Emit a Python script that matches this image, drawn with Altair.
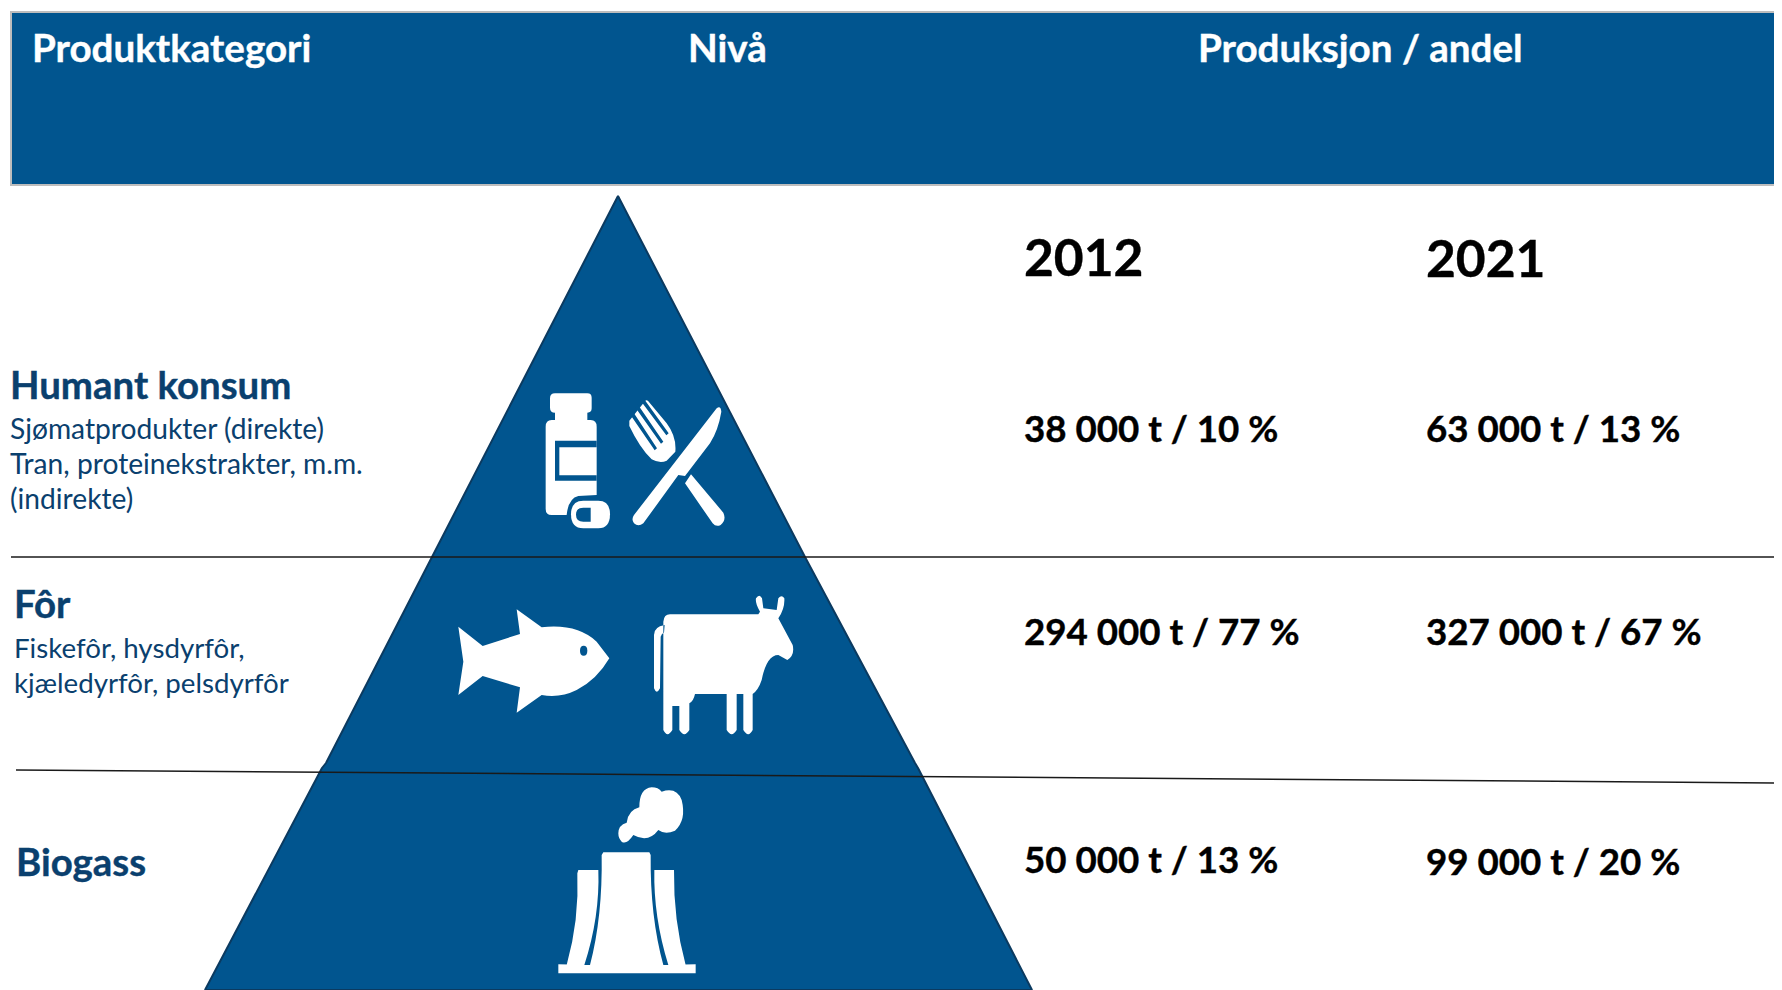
import altair as alt
import pandas as pd

BLUE = "#01558F"
NAVY = "#0A406E"
FONT = "Lato"

headers = ["Produktkategori", "Nivå", "Produksjon / andel"]
header_x = [32, 688, 1198]
header_y = [62, 62, 62]
years = ["2012", "2021"]
year_x = [1024, 1426]
year_y = [276, 277]
v2012 = ["38 000 t / 10 %", "294 000 t / 77 %", "50 000 t / 13 %"]
v2021 = ["63 000 t / 13 %", "327 000 t / 67 %", "99 000 t / 20 %"]
y2012 = [442, 645, 873]
y2021 = [442, 645, 875]
cats = ["Humant konsum", "Fôr", "Biogass"]
cat_x = [10, 14, 16]
cat_y = [399, 618, 876]
subs_a = ["Sjømatprodukter (direkte)", "Tran, proteinekstrakter, m.m.", "(indirekte)"]
sub_a_y = [439, 474, 509]
subs_b = ["Fiskefôr, hysdyrfôr,", "kjæledyrfôr, pelsdyrfôr"]
sub_b_y = [658, 693]

# Pyramid outline: height, left edge, right edge
pyr_y = [196, 557, 763, 768, 990]
pyr_l = [618, 432, 326, 322, 205]
pyr_r = [618, 805, 915, 918, 1032]

# Icon outlines, in units of one third of a pixel around each icon's anchor
BOTTLE = ("M165 70L262 70Q275 70 275 83L275 115Q275 128 262 128L262 150L272 150Q290 150 290 170L290 375L235 378"
          "Q205 385 200 435L155 435Q137 435 137 417L137 170Q137 150 155 150L165 150L165 128Q150 128 150 113L150 85Q150 70 165 70Z")
LABEL = "M290 212L165 212L165 332L290 332L290 316L178 316L178 232L290 232Z"
PILL = "M250 392L295 392Q330 392 330 433Q330 475 295 475L250 475Q213 475 213 433Q213 392 250 392Z"
PILL_IN = "M272 413L250 413Q228 413 228 434Q228 455 250 455L272 455Z"
FORK = ("M388 152L436 92Q440 88 445 94L500 160Q530 200 526 245L500 272Q480 282 455 268Q420 235 388 168Z"
        "M573 313L670 428Q680 450 662 465Q648 472 638 460L555 340Z")
SLOTS = ("M389 131L398 124L471 235L464 241Z M405 111L414 104L490 215L483 221Z M421 91L430 84L506 190L499 196Z")
KNIFE = "M650 115Q662 105 664 125Q655 180 630 220L555 318L535 315L430 460Q415 472 402 460Q393 448 402 435Z"
FISH = ("M85 170L158 228L270 192L260 118L335 172Q440 160 500 215L538 265Q500 330 440 360Q390 385 335 375"
        "L260 428L270 352L158 318L85 375L100 275Z")
EYE = "M450 242Q450 227 461 227Q472 227 472 242Q472 257 461 257Q450 257 450 242Z"
COW = ("M720 133L985 133L990 125Q975 100 978 85Q988 70 996 85L1000 115L1040 120L1045 85Q1055 72 1063 85Q1065 115 1045 145"
       "L1088 225Q1095 255 1072 270L1045 255Q1010 255 995 330Q985 360 968 372L968 480Q955 505 940 480L940 372L920 372"
       "L920 480Q905 505 890 480L890 372L795 372Q790 395 778 400L778 480Q763 505 748 480L748 408L727 408L727 480"
       "Q712 505 700 480L700 155Q702 133 720 133Z"
       "M704 165Q672 170 672 195L672 355Q680 375 690 355L692 200Q695 190 702 188Z")
TOWER = ("M250 247L388 247L392 255Q390 440 430 585L527 583L527 610L115 610L115 583L210 585Q248 440 245 255Z"
         "M175 300L235 300Q240 440 193 585L140 585Q178 450 172 310Z"
         "M403 300L462 300Q460 450 497 585L445 585Q400 440 403 300Z")
SMOKE = ("M295 190Q295 165 320 158Q325 120 358 112Q358 55 395 52Q415 52 425 65Q470 50 485 90Q500 150 465 182"
         "Q435 195 415 180Q385 220 340 195Q320 225 305 215Q295 205 295 190Z")

X = alt.X("x:Q", scale=alt.Scale(domain=[8, 1774], nice=False, zero=False), axis=None)
Y = alt.Y("y:Q", scale=alt.Scale(domain=[8, 990], nice=False, zero=False, reverse=True), axis=None)


def text_layer(texts, xs, ys, size, color, bold):
    df = pd.DataFrame({"t": texts, "x": xs, "y": ys})
    extra = {"stroke": color, "strokeWidth": 0.4} if bold else {}
    return alt.Chart(df).mark_text(
        align="left", baseline="alphabetic", font=FONT, fontSize=size, color=color,
        fontWeight="bold" if bold else "normal", **extra
    ).encode(x=X, y=Y, text="t:N")


def icon(path, ax, ay, fill):
    df = pd.DataFrame({"x": [ax], "y": [ay]})
    return alt.Chart(df).mark_point(
        shape=path, filled=True, fill=fill, size=4 / 9, opacity=1, strokeWidth=0
    ).encode(x=X, y=Y)


header = alt.Chart(pd.DataFrame({"x": [11], "x2": [1790], "y": [12], "y2": [185]})).mark_rect(
    fill=BLUE, stroke="#BDBDBD", strokeWidth=2
).encode(x=X, x2="x2:Q", y=Y, y2="y2:Q")

triangle = alt.Chart(pd.DataFrame({"x": pyr_l, "x2": pyr_r, "y": pyr_y})).mark_area(
    orient="horizontal", fill=BLUE, stroke="#0B3A60", strokeWidth=2, strokeJoin="bevel"
).encode(x=X, x2="x2:Q", y=Y)

rules = alt.Chart(pd.DataFrame({"x": [11, 16], "x2": [1790, 1790], "y": [557, 770], "y2": [557, 783]})).mark_rule(
    color="#1A1A1A", strokeWidth=1.5
).encode(x=X, x2="x2:Q", y=Y, y2="y2:Q")

layers = [
    header, triangle, rules,
    text_layer(headers, header_x, header_y, 38.6, "white", True),
    text_layer(years, year_x, year_y, 51.5, "black", True),
    text_layer(v2012, [1024] * 3, y2012, 36.7, "black", True),
    text_layer(v2021, [1426] * 3, y2021, 36.7, "black", True),
    text_layer(cats, cat_x, cat_y, 38.4, NAVY, True),
    text_layer(subs_a, [10] * 3, sub_a_y, 28.2, NAVY, False),
    text_layer(subs_b, [14] * 2, sub_b_y, 27.7, NAVY, False),
    icon(BOTTLE, 500, 370, "white"), icon(LABEL, 500, 370, BLUE),
    icon(PILL, 500, 370, "white"), icon(PILL_IN, 500, 370, BLUE),
    icon(FORK, 500, 370, "white"), icon(SLOTS, 500, 370, BLUE), icon(KNIFE, 500, 370, "white"),
    icon(FISH, 430, 570, "white"), icon(EYE, 430, 570, BLUE), icon(COW, 430, 570, "white"),
    icon(TOWER, 520, 770, "white"), icon(SMOKE, 520, 770, "white"),
]

chart = alt.layer(*layers).properties(
    width=1766, height=982, padding=0, autosize=alt.AutoSizeParams(type="none")
).configure_view(stroke=None)

chart.save("out.html", embed_options={"renderer": "svg", "actions": False})
